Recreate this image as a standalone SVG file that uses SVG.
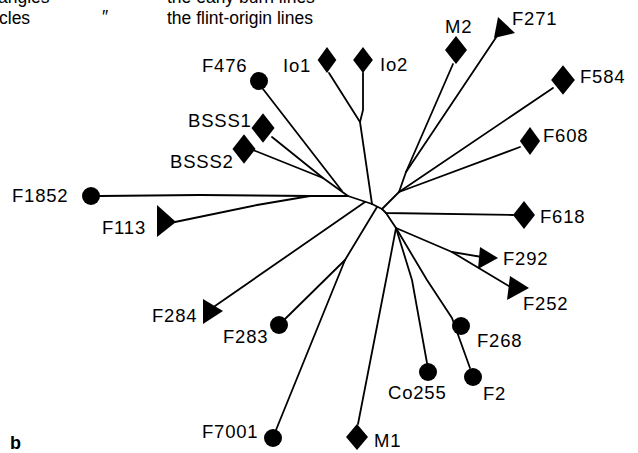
<svg xmlns="http://www.w3.org/2000/svg" xmlns:xlink="http://www.w3.org/1999/xlink" width="638" height="453" viewBox="0 0 638 453">
  <style>
    text { font-family: "Liberation Sans", Arial, sans-serif; font-size: 18.5px; fill: #000; letter-spacing: 0.8px; }
    .legend { font-size: 17.5px; letter-spacing: 0; }
    .edge { fill: none; stroke: #000; stroke-width: 1.8; stroke-linecap: round; stroke-linejoin: round; }
    .mark { fill: #000; stroke: none; }
  </style>
  <defs>
    <!-- marker shapes: diamond for one line type, dot for the flint-origin lines -->
    <path id="dia" d="M0,-14 L11,0 L0,14 L-11,0 Z"/>
    <circle id="dot" r="9"/>
  </defs>
  <rect width="638" height="453" fill="#fff"/>

  <!-- legend (top edge cut off) -->
  <g id="legend">
    <text class="legend" x="-2" y="3">angles</text>
    <text class="legend" x="167" y="3">the early burn lines</text>
    <text class="legend" x="-1" y="24">cles</text>
    <text class="legend" x="102" y="23">″</text>
    <text class="legend" x="167" y="24">the flint-origin lines</text>
  </g>

  <!-- tree branches -->
  <g id="connectors" class="edge">
    <!-- left cluster -->
    <polyline points="100,196 200,195 310,196 348,196 372,204"/>
    <polyline points="175,222 257,205 310,196"/>
    <polyline points="272,137 323,178 348,196"/>
    <polyline points="253,150 323,178"/>
    <polyline points="263,89 342,191"/>
    <!-- Io branch -->
    <polyline points="329,73 360,122 372,204"/>
    <polyline points="363,73 363,110 360,122"/>
    <!-- lower left -->
    <polyline points="215,306 365,202"/>
    <polyline points="285,319 345,260 377,207"/>
    <polyline points="276,430 345,260"/>
    <!-- centre link -->
    <polyline points="372,204 382,209"/>
    <!-- upper right -->
    <polyline points="453,64 406,172 399,192 382,209"/>
    <polyline points="497,36 406,172"/>
    <polyline points="553,88 399,192"/>
    <polyline points="520,147 399,192"/>
    <!-- right / lower right -->
    <polyline points="382,209 386,213 513,215"/>
    <polyline points="386,213 396,228 452,252 482,257"/>
    <polyline points="452,252 512,288"/>
    <polyline points="396,228 388,270 358,424"/>
    <polyline points="396,228 412,280 427,363"/>
    <polyline points="396,228 427,280 452,318 470,368"/>
  </g>

  <!-- nodes -->
  <g id="n-F476"><use href="#dot" class="mark" x="259" y="81"/><text x="202" y="72">F476</text></g>
  <g id="n-Io1"><use href="#dia" class="mark" transform="translate(327,60) scale(0.85,0.93)"/><text x="283" y="72">Io1</text></g>
  <g id="n-Io2"><use href="#dia" class="mark" transform="translate(363,60) scale(0.9,0.93)"/><text x="380" y="71">Io2</text></g>
  <g id="n-M2"><use href="#dia" class="mark" x="456" y="50"/><text x="445" y="33">M2</text></g>
  <g id="n-F271"><polygon class="mark" points="498,17 515,33 494,38"/><text x="512" y="25">F271</text></g>
  <g id="n-F584"><use href="#dia" class="mark" transform="translate(563,80) scale(1.08,1.05)"/><text x="580" y="83">F584</text></g>
  <g id="n-F608"><use href="#dia" class="mark" transform="translate(530,141) scale(0.92,1)"/><text x="543" y="142">F608</text></g>
  <g id="n-BSSS1"><use href="#dia" class="mark" transform="translate(263,128) scale(1.05,1.05)"/><text x="188" y="127">BSSS1</text></g>
  <g id="n-BSSS2"><use href="#dia" class="mark" transform="translate(244,149) scale(1.05,1.05)"/><text x="170" y="168">BSSS2</text></g>
  <g id="n-F1852"><use href="#dot" class="mark" x="91" y="196"/><text x="12" y="202">F1852</text></g>
  <g id="n-F113"><polygon class="mark" points="157,205 176,222 157,237"/><text x="102" y="234">F113</text></g>
  <g id="n-F618"><use href="#dia" class="mark" x="524" y="215"/><text x="540" y="223">F618</text></g>
  <g id="n-F292"><polygon class="mark" points="480,247 498,258 478,269"/><text x="503" y="265">F292</text></g>
  <g id="n-F252"><polygon class="mark" points="510,276 529,288 507,300"/><text x="523" y="310">F252</text></g>
  <g id="n-F268"><use href="#dot" class="mark" x="461" y="326"/><text x="477" y="347">F268</text></g>
  <g id="n-Co255"><use href="#dot" class="mark" x="428" y="372"/><text x="388" y="399">Co255</text></g>
  <g id="n-F2"><use href="#dot" class="mark" x="473" y="377"/><text x="483" y="400">F2</text></g>
  <g id="n-F284"><polygon class="mark" points="203,299 223,311 203,324"/><text x="152" y="322">F284</text></g>
  <g id="n-F283"><use href="#dot" class="mark" x="279" y="325"/><text x="223" y="343">F283</text></g>
  <g id="n-F7001"><use href="#dot" class="mark" x="273" y="438"/><text x="202" y="438">F7001</text></g>
  <g id="n-M1"><use href="#dia" class="mark" transform="translate(357,437) scale(1,0.93)"/><text x="374" y="447">M1</text></g>

  <text x="10" y="449" style="font-size:18px;font-weight:bold;letter-spacing:0">b</text>
</svg>
